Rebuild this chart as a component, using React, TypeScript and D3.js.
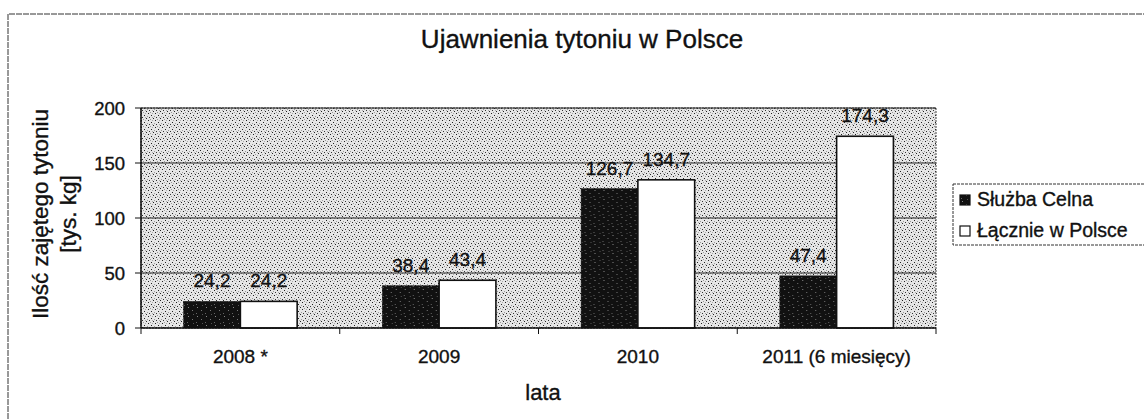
import React from 'react';
import * as d3 from 'd3';

const categories = ['2008 *', '2009', '2010', '2011 (6 miesięcy)'];
const sluzbaCelna = [24.2, 38.4, 126.7, 47.4];
const lacznie = [24.2, 43.4, 134.7, 174.3];
const seriesNames = ['Służba Celna', 'Łącznie w Polsce'];
const yTicks = [0, 50, 100, 150, 200];

const FONT = '"Liberation Sans", Arial, sans-serif';
// scanned print looks a bit heavier than plain regular weight
const ink = { fontFamily: FONT, fill: '#111', stroke: '#111', strokeWidth: 0.35 };

export default function App() {
  const width = 1144;
  const height = 420;
  const plot = { left: 141, right: 936, top: 108, bottom: 328 };

  const x0 = d3.scaleBand().domain(categories).range([plot.left, plot.right]).padding(0);
  const x1 = d3.scaleBand().domain(seriesNames).range([0, x0.bandwidth()]).paddingInner(0).paddingOuter(0.75);
  const y = d3.scaleLinear().domain([0, 200]).range([plot.bottom, plot.top]);

  const fmt = (v: number) => v.toFixed(1).replace('.', ',');
  const values = [sluzbaCelna, lacznie];

  // boundaries between categories get the x ticks
  const xTickPos = categories.map(c => x0(c)!).concat([plot.right]);

  return (
    <svg width={width} height={height} style={{ position: 'absolute', left: 0, top: 0, background: '#fff' }}>
      <defs>
        <pattern id="stipple" width="7" height="7" patternUnits="userSpaceOnUse">
          <rect width="7" height="7" fill="#e6e6e6" />
          <rect x="1" y="1" width="1" height="1" fill="#222" />
          <rect x="4" y="3" width="1" height="1" fill="#222" />
          <rect x="2" y="5" width="1" height="1" fill="#333" />
          <rect x="6" y="6" width="1" height="1" fill="#222" />
          <rect x="3" y="0" width="1" height="1" fill="#999" />
          <rect x="0" y="4" width="1" height="1" fill="#9a9a9a" />
          <rect x="5" y="1" width="1" height="1" fill="#aaa" />
          <rect x="5" y="5" width="1" height="1" fill="#aaa" />
        </pattern>
        <pattern id="darkbar" width="9" height="9" patternUnits="userSpaceOnUse">
          <rect width="9" height="9" fill="#111" />
          <rect x="2" y="1" width="1" height="1" fill="#888" />
          <rect x="6" y="4" width="1" height="1" fill="#777" />
          <rect x="1" y="7" width="1" height="1" fill="#666" />
          <rect x="7" y="8" width="1" height="1" fill="#555" />
        </pattern>
      </defs>

      {/* outer frame (scan edge) */}
      <line x1={9} x2={width} y1={14} y2={14} stroke="#333" strokeWidth={1} strokeDasharray="6,1" />
      <line x1={8} x2={8} y1={14} y2={height} stroke="#333" strokeWidth={1} strokeDasharray="6,1" />

      {/* title */}
      <text x={582} y={48} textAnchor="middle" fontSize={26} {...ink}>
        Ujawnienia tytoniu w Polsce
      </text>

      {/* plot area */}
      <rect x={plot.left} y={plot.top} width={plot.right - plot.left} height={plot.bottom - plot.top}
        fill="url(#stipple)" stroke="#444" strokeWidth={1} strokeDasharray="2,1" />

      {/* gridlines */}
      {yTicks.filter(t => t > 0).map(t => (
        <line key={t} x1={plot.left} x2={plot.right} y1={y(t)} y2={y(t)} stroke="#222" strokeWidth={1.2} />
      ))}

      {/* bars */}
      {categories.map((c, i) => (
        <g key={c} transform={`translate(${x0(c)},0)`}>
          {seriesNames.map((s, si) => (
            <rect key={s} x={x1(s)} y={y(values[si][i])} width={x1.bandwidth()} height={y(0) - y(values[si][i])}
              fill={si === 0 ? 'url(#darkbar)' : '#fff'} stroke="#111" strokeWidth={si === 0 ? 0.5 : 1.6} />
          ))}
          {seriesNames.map((s, si) => (
            <text key={s + 'l'} x={x1(s)! + x1.bandwidth() / 2} y={y(values[si][i]) - 14} textAnchor="middle"
              fontSize={19} {...ink}>
              {fmt(values[si][i])}
            </text>
          ))}
        </g>
      ))}

      {/* axes */}
      <line x1={plot.left} x2={plot.left} y1={plot.top} y2={plot.bottom} stroke="#111" strokeWidth={1.5} />
      <line x1={plot.left} x2={plot.right} y1={plot.bottom} y2={plot.bottom} stroke="#111" strokeWidth={1.5} />
      {yTicks.map(t => (
        <g key={t}>
          <line x1={plot.left - 6} x2={plot.left} y1={y(t)} y2={y(t)} stroke="#111" strokeWidth={1} />
          <text x={125} y={y(t) + 7} textAnchor="end" fontSize={18.5} {...ink}>{t}</text>
        </g>
      ))}
      {xTickPos.map((p, i) => (
        <line key={i} x1={p} x2={p} y1={plot.bottom} y2={plot.bottom + 6} stroke="#111" strokeWidth={1} />
      ))}
      {categories.map(c => (
        <text key={c} x={x0(c)! + x0.bandwidth() / 2} y={363} textAnchor="middle" fontSize={19} {...ink}>
          {c}
        </text>
      ))}

      {/* axis titles */}
      <text x={543} y={400} textAnchor="middle" fontSize={22} {...ink}>lata</text>
      <text transform="translate(48,214) rotate(-90)" textAnchor="middle" fontSize={22.5} {...ink}>
        Ilość zajętego tytoniu
      </text>
      <text transform="translate(76,214) rotate(-90)" textAnchor="middle" fontSize={22.5} {...ink}>
        [tys. kg]
      </text>

      {/* legend */}
      <rect x={953} y={184} width={200} height={61} fill="#fff" stroke="#333" strokeWidth={1} strokeDasharray="3,1" />
      {seriesNames.map((s, si) => (
        <g key={s} transform={`translate(960,${200 + si * 31})`}>
          <rect x={0} y={-5} width={10} height={10} fill={si === 0 ? 'url(#darkbar)' : '#fff'} stroke="#111" strokeWidth={1.2} />
          <text x={17} y={6} fontSize={19.5} {...ink}>{s}</text>
        </g>
      ))}
    </svg>
  );
}
